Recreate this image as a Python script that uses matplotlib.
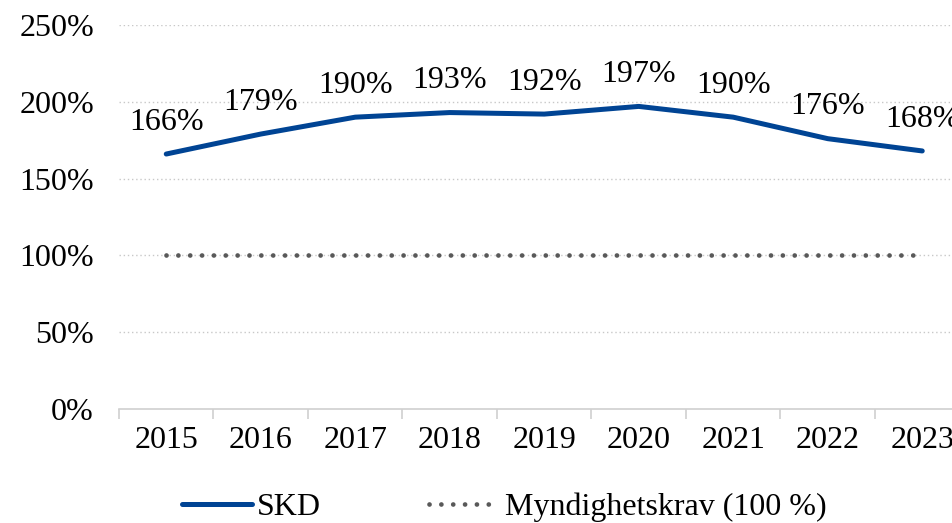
import matplotlib
matplotlib.use("Agg")
import matplotlib.pyplot as plt
from matplotlib.lines import Line2D

years = ["2015", "2016", "2017", "2018", "2019", "2020", "2021", "2022", "2023"]
skd = [166, 179, 190, 193, 192, 197, 190, 176, 168]
krav = [100] * len(years)
yticks = [0, 50, 100, 150, 200, 250]

plt.rcParams['font.family'] = ['Liberation Serif', 'DejaVu Serif']
FS = 23
W, H = 953, 523
fig = plt.figure(figsize=(W / 100, H / 100), dpi=100)
left, right = 119 / W, 969.5 / W
bottom, top = (H - 409) / H, (H - 25) / H
ax = fig.add_axes([left, bottom, right - left, top - bottom])

x = list(range(len(years)))
blue = "#004494"
gray = "#595959"
ax.plot(x, skd, color=blue, lw=3.6, solid_capstyle='round', solid_joinstyle='round', zorder=3)
ax.plot(x, krav, color=gray, lw=3.4, linestyle=(0, (0.01, 2.5)), dash_capstyle='round', zorder=3)

for xi, v in zip(x, skd):
    ax.annotate(f"{v}%", (xi, v), xytext=(0, 23), textcoords='offset points',
                ha='center', va='center', fontsize=FS, color='black', annotation_clip=False)

ax.set_xlim(-0.5, len(years) - 0.5)
ax.set_ylim(0, 250)
ax.set_yticks(yticks)
ax.set_yticklabels([f"{t}%" for t in yticks], fontsize=FS)
ax.tick_params(axis='y', length=0, pad=18)
for t in yticks[1:]:
    ax.axhline(t, color="#c8c8c8", lw=1.0, linestyle=(0, (1, 2)), zorder=1)

ax.set_xticks(x)
ax.set_xticklabels(years, fontsize=FS)
ax.set_xticks([i - 0.5 for i in range(len(years) + 1)], minor=True)
ax.tick_params(axis='x', which='major', length=0, pad=12)
ax.tick_params(axis='x', which='minor', length=7, color="#d0d0d0", width=1.2)

for s in ['top', 'right', 'left']:
    ax.spines[s].set_visible(False)
ax.spines['bottom'].set_color("#d0d0d0")
ax.spines['bottom'].set_linewidth(1.2)

handles = [Line2D([], [], color=blue, lw=3.6, solid_capstyle='round'),
           Line2D([], [], color=gray, lw=3.4, linestyle=(0, (0.01, 2.5)), dash_capstyle='round')]
fig.legend(handles, ["SKD", "Myndighetskrav (100 %)"], loc='center', bbox_to_anchor=(504 / W, (H - 507) / H),
           ncol=2, frameon=False, fontsize=FS, handlelength=2.2, handletextpad=0.15, columnspacing=3.4,
           borderaxespad=0, borderpad=0)

fig.savefig("out.png", dpi=100)
